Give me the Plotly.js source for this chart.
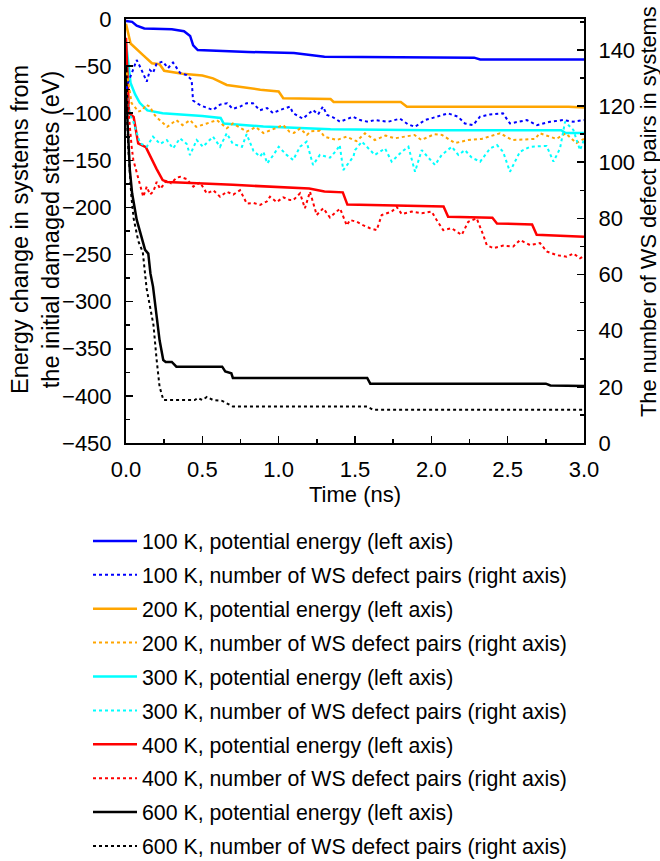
<!DOCTYPE html>
<html>
<head>
<meta charset="utf-8">
<script src="https://cdn.plot.ly/plotly-3.0.1.min.js"></script>
<style>html,body{margin:0;padding:0;background:#fff;}#chart{width:660px;height:861px;}</style>
</head>
<body>
<div id="chart"></div>
<script>
// ---- Data (time in ns) ----
// 100 K
const t100E = [0, 0.04, 0.07, 0.12, 0.30, 0.38, 0.42, 0.44, 0.47, 0.80, 1.10, 1.20, 1.30, 2.28, 2.32, 3.0];
const e100  = [-2, -3, -7, -10, -11, -13, -18, -28, -33, -35, -36, -38, -40, -41, -43, -43];
const t100N = [0.005,0.011,0.037,0.070,0.092,0.136,0.157,0.177,0.201,0.242,0.275,0.308,0.354,0.398,0.430,0.439,0.463,0.504,0.570,0.616,0.662,0.70,0.747,0.79,0.832,0.877,0.924,0.963,1.009,1.074,1.094,1.159,1.225,1.258,1.290,1.317,1.356,1.402,1.454,1.487,1.533,1.585,1.631,1.716,1.795,1.847,1.893,1.958,2.004,2.057,2.109,2.175,2.220,2.273,2.319,2.384,2.469,2.515,2.581,2.626,2.692,2.777,2.862,2.928,3.0];
const n100  = [126,128,131.6,136.4,134,128.7,132.8,131.8,135.2,135.8,133.5,135.5,131.8,131,129.3,122,121,119.9,118.6,120.5,121,119,119.8,121,121,118.5,119.3,117.5,118.6,119.8,117.5,115.5,118.6,117,119.8,116.8,116,114.4,115.5,116.2,115,114.4,115,114.4,115.5,113.5,112.6,115,115.7,116.5,117.4,116.2,113.8,113.2,116.2,117,117.4,113.8,114.5,115,113.2,114.4,115,114.4,115];
// 200 K
const t200E = [0, 0.01, 0.03, 0.11, 0.17, 0.22, 0.25, 0.37, 0.50, 0.57, 0.66, 0.88, 1.00, 1.03, 1.34, 1.36, 1.80, 1.84, 2.90, 3.0];
const e200  = [-5, -12, -26, -38, -47, -48, -55, -58, -60, -63, -70, -75, -77, -84, -85, -88, -88, -93, -93, -94];
const t200N = [0.005,0.02,0.037,0.06,0.08,0.11,0.13,0.157,0.18,0.20,0.244,0.27,0.33,0.37,0.42,0.46,0.53,0.595,0.66,0.70,0.79,0.85,0.90,0.96,1.03,1.07,1.10,1.14,1.185,1.21,1.27,1.30,1.38,1.445,1.51,1.565,1.63,1.70,1.76,1.89,1.935,2.02,2.07,2.155,2.24,2.33,2.45,2.53,2.68,2.71,2.82,2.88,2.95,3.0];
const n200  = [132,126,121,119.5,118,118.6,120.5,119.8,117.4,116,113.8,112.6,115,113.2,115,112.6,113.8,115,112.1,113.8,110.9,112.5,110.4,111.8,113.2,110.9,110.4,112,109.7,111,111.2,109.1,107.9,109.1,107.5,110.3,107.9,109.5,108.5,109.7,107.9,110,109.7,106.8,107.9,108.3,110.3,107.9,108.3,110.3,108.3,110.3,106.8,108.3];
// 300 K
const t300E = [0, 0.02, 0.03, 0.06, 0.09, 0.14, 0.24, 0.50, 0.62, 0.64, 0.90, 1.34, 2.00, 2.85, 2.88, 3.0];
const e300  = [-25, -50, -68, -80, -89, -97, -100, -103, -105, -111, -114, -117, -118, -118, -121, -121];
const t300N = [0.005,0.025,0.048,0.07,0.092,0.136,0.177,0.223,0.267,0.308,0.354,0.398,0.419,0.463,0.504,0.57,0.616,0.66,0.70,0.76,0.79,0.835,0.878,0.90,0.925,0.966,1.0,1.052,1.095,1.14,1.183,1.225,1.27,1.336,1.38,1.40,1.423,1.49,1.50,1.545,1.63,1.697,1.74,1.806,1.85,1.893,1.937,2.024,2.068,2.134,2.177,2.22,2.265,2.32,2.385,2.43,2.47,2.515,2.58,2.646,2.755,2.80,2.843,2.876,2.93,2.974,3.0];
const n300  = [125,117,114.4,110.4,106.8,105.5,109.1,106.5,107.9,104.9,108.5,106.5,102.5,107.9,105.5,109.1,105.5,110.3,106.5,105.5,110,104,102,103.7,99.6,102.6,105.5,102.6,100.8,105.5,107.3,99,102.6,101.6,104.3,106.1,97.2,102,104.3,107.3,102.6,104.9,100.2,103.7,105.5,96.6,104.3,99,102.6,105.5,102.6,104.3,101.6,100.2,104.9,106.1,103.7,96.6,103.7,105.5,105.8,100.2,104.9,114.4,111.5,104.3,108];
// 400 K
const t400E = [0, 0.01, 0.02, 0.05, 0.08, 0.13, 0.17, 0.20, 0.24, 0.27, 0.70, 1.20, 1.30, 1.42, 1.45, 2.08, 2.11, 2.40, 2.43, 2.66, 2.69, 3.0];
const e400  = [-20, -60, -100, -104, -132, -136, -150, -159, -171, -173, -176, -180, -183, -184, -197, -199, -210, -211, -217, -218, -229, -231];
const t400N = [0.005,0.015,0.026,0.037,0.048,0.070,0.092,0.113,0.136,0.157,0.179,0.201,0.223,0.244,0.267,0.295,0.332,0.354,0.398,0.441,0.485,0.529,0.572,0.616,0.660,0.703,0.747,0.791,0.834,0.878,0.922,0.943,0.987,1.030,1.074,1.096,1.140,1.172,1.205,1.249,1.292,1.336,1.402,1.446,1.467,1.511,1.552,1.598,1.642,1.675,1.740,1.773,1.806,1.871,1.937,2.002,2.035,2.078,2.133,2.199,2.242,2.297,2.340,2.363,2.406,2.471,2.537,2.581,2.646,2.712,2.756,2.821,2.887,2.930,2.974,3.0];
const n400  = [125,118,110.4,105.5,100.8,96,91.3,87.7,91.3,88.5,89.5,93,90.5,91.8,93.7,92.5,94.5,94.8,94,91.3,92.8,88.9,90,87.7,89.5,88.5,90,85.3,85.5,84.8,86,87.7,85.8,87.5,86.5,86.5,88.9,83.6,89.5,81.2,83.6,80.3,83.5,77.5,79.4,78.8,77.6,76.5,75.8,81.2,82.4,84.1,81.5,82.4,81.8,82.4,79.4,75.8,76.5,74.1,78.8,80,74.1,70.5,69.4,70.3,70,72.3,70.5,71.2,68.2,66.9,66.3,67.5,65.8,66.5];
// 600 K
const t600E = [0, 0.01, 0.025, 0.04, 0.07, 0.10, 0.125, 0.146, 0.16, 0.177, 0.20, 0.22, 0.244, 0.26, 0.30, 0.33, 0.63, 0.65, 0.69, 0.70, 1.58, 1.60, 2.75, 2.78, 3.0];
const e600  = [-50, -110, -160, -185, -213, -231, -245, -249, -270, -284, -312, -341, -362, -364, -364, -369, -369, -374, -376, -381, -381, -387, -387, -389, -389.5];
const t600N = [0, 0.015, 0.035, 0.05, 0.08, 0.11, 0.135, 0.16, 0.18, 0.20, 0.22, 0.245, 0.30, 0.45, 0.47, 0.50, 0.53, 0.57, 0.63, 0.70, 1.58, 1.62, 3.0];
const n600  = [125, 105, 88, 80, 72, 68, 55, 47, 42, 30, 20, 15.3, 15.3, 15.3, 16, 15.3, 16.4, 15.3, 15, 13, 13, 11.8, 11.8];

const seriesNames = [
  '100 K, potential energy (left axis)',
  '100 K, number of WS defect pairs (right axis)',
  '200 K, potential energy (left axis)',
  '200 K, number of WS defect pairs (right axis)',
  '300 K, potential energy (left axis)',
  '300 K, number of WS defect pairs (right axis)',
  '400 K, potential energy (left axis)',
  '400 K, number of WS defect pairs (right axis)',
  '600 K, potential energy (left axis)',
  '600 K, number of WS defect pairs (right axis)'
];
const colors = ['#0000ff', '#ffa500', '#00ffff', '#ff0000', '#000000'];

const energyX = [t100E, t200E, t300E, t400E, t600E];
const energyY = [e100, e200, e300, e400, e600];
const countX = [t100N, t200N, t300N, t400N, t600N];
const countY = [n100, n200, n300, n400, n600];

const traces = [];
for (let i = 0; i < 5; i++) {
  traces.push({
    x: energyX[i], y: energyY[i], type: 'scatter', mode: 'lines',
    name: seriesNames[2*i], legendgroup: 'g' + (2*i),
    line: {color: colors[i], width: 2.5}, yaxis: 'y'
  });
  traces.push({
    x: countX[i], y: countY[i], type: 'scatter', mode: 'lines',
    name: seriesNames[2*i+1], legendgroup: 'g' + (2*i+1),
    line: {color: colors[i], width: 2, dash: 'dot'}, yaxis: 'y2'
  });
}

const FONT = 'Liberation Sans, Arial, sans-serif';
const layout = {
  width: 660, height: 861,
  margin: {l: 126, r: 76, t: 19, b: 418, pad: 0, autoexpand: false},
  paper_bgcolor: '#ffffff', plot_bgcolor: '#ffffff',
  font: {family: FONT, size: 22, color: '#000'},
  showlegend: true,
  legend: {
    x: (88 - 126) / 458, y: -0.183, xanchor: 'left', yanchor: 'top',
    font: {family: FONT, size: 21.3, color: '#000'},
    traceorder: 'grouped', tracegroupgap: 3.2,
    bgcolor: 'rgba(0,0,0,0)', borderwidth: 0, itemwidth: 44
  },
  xaxis: {
    range: [0, 3], dtick: 0.5, tick0: 0, tickformat: '.1f',
    ticks: 'inside', ticklen: 7, tickwidth: 1.5, tickcolor: '#000',
    minor: {ticks: 'inside', ticklen: 4, dtick: 0.25, tickwidth: 1.5, tickcolor: '#000'},
    showline: true, linewidth: 2, linecolor: '#000', mirror: true,
    showgrid: false, zeroline: false,
    tickfont: {family: FONT, size: 22, color: '#000'},
    ticklabelstandoff: 6,
    title: {text: 'Time (ns)', font: {family: FONT, size: 22, color: '#000'}, standoff: 0}
  },
  yaxis: {
    range: [-450, 0], dtick: 50, tick0: 0,
    ticks: 'inside', ticklen: 7, tickwidth: 1.5, tickcolor: '#000',
    minor: {ticks: 'inside', ticklen: 4, dtick: 25, tickwidth: 1.5, tickcolor: '#000'},
    showline: true, linewidth: 2, linecolor: '#000',
    showgrid: false, zeroline: false,
    tickfont: {family: FONT, size: 22, color: '#000'},
    ticklabelstandoff: 8
  },
  yaxis2: {
    overlaying: 'y', side: 'right',
    range: [0, 151], dtick: 20, tick0: 0,
    ticks: 'inside', ticklen: 7, tickwidth: 1.5, tickcolor: '#000',
    minor: {ticks: 'inside', ticklen: 4, dtick: 10, tickwidth: 1.5, tickcolor: '#000'},
    showline: true, linewidth: 2, linecolor: '#000',
    showgrid: false, zeroline: false,
    tickfont: {family: FONT, size: 22, color: '#000'},
    ticklabelstandoff: 8
  },
  annotations: [
    {
      text: 'Energy change in systems from<br>the initial damaged states (eV)',
      xref: 'paper', yref: 'paper', x: (35 - 126) / 458, y: (443 - 230) / 424,
      xanchor: 'center', yanchor: 'middle', textangle: -90, showarrow: false,
      font: {family: FONT, size: 23.5, color: '#000'}
    },
    {
      text: 'The number of WS defect pairs in systems',
      xref: 'paper', yref: 'paper', x: (648 - 126) / 458, y: (443 - 212) / 424,
      xanchor: 'center', yanchor: 'middle', textangle: -90, showarrow: false,
      font: {family: FONT, size: 21.8, color: '#000'}
    }
  ]
};

Plotly.newPlot('chart', traces, layout, {displayModeBar: false, staticPlot: true});
</script>
</body>
</html>
